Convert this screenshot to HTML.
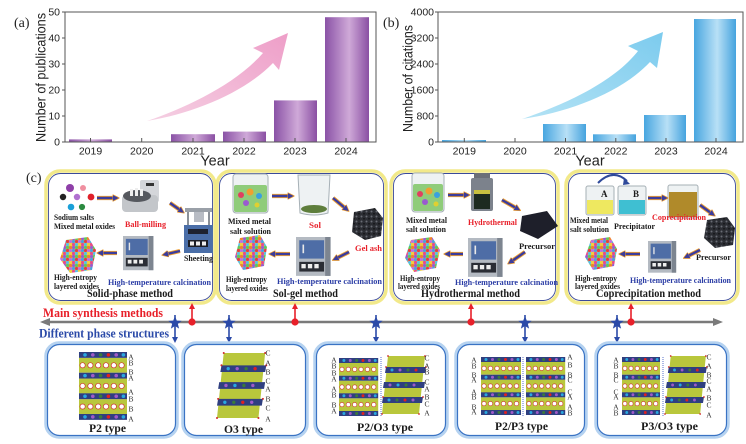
<!DOCTYPE html>
<html><head><meta charset="utf-8"><style>
html,body{margin:0;padding:0;background:#fff;}
svg{display:block;}
.t{font-family:"Liberation Sans",sans-serif;fill:#222;}
.s{font-family:"Liberation Serif",serif;font-weight:bold;fill:#1a1a1a;}
.r{fill:#e8202a;}
.b{fill:#2c3ea6;}
.l{font-family:"Liberation Serif",serif;fill:#333;font-size:7.5px;}
</style></head><body>
<svg width="746" height="444" viewBox="0 0 746 444" xmlns="http://www.w3.org/2000/svg">
<defs>
<linearGradient id="gp" x1="0" x2="1" y1="0" y2="0"><stop offset="0" stop-color="#8a52a6"/><stop offset="0.55" stop-color="#cfa9d8"/><stop offset="1" stop-color="#8a4fa3"/></linearGradient>
<linearGradient id="gb" x1="0" x2="1" y1="0" y2="0"><stop offset="0" stop-color="#48a6e0"/><stop offset="0.55" stop-color="#b8e0f6"/><stop offset="1" stop-color="#45a3de"/></linearGradient>
<linearGradient id="ga" x1="0" x2="1" y1="1" y2="0"><stop offset="0" stop-color="#f5d0e3"/><stop offset="1" stop-color="#ee9ec8"/></linearGradient>
<linearGradient id="gc" x1="0" x2="1" y1="1" y2="0"><stop offset="0" stop-color="#b4e3f5"/><stop offset="1" stop-color="#7ccbee"/></linearGradient>
<pattern id="sph" width="9" height="9" patternUnits="userSpaceOnUse">
<rect width="9" height="9" fill="#e0c850"/>
<circle cx="1.5" cy="1.5" r="1.6" fill="#e84a8a"/><circle cx="4.5" cy="1.5" r="1.6" fill="#58c0e8"/><circle cx="7.5" cy="1.5" r="1.6" fill="#f0d040"/>
<circle cx="1.5" cy="4.5" r="1.6" fill="#9a5ad0"/><circle cx="4.5" cy="4.5" r="1.6" fill="#60c860"/><circle cx="7.5" cy="4.5" r="1.6" fill="#f08030"/>
<circle cx="1.5" cy="7.5" r="1.6" fill="#4aa0e0"/><circle cx="4.5" cy="7.5" r="1.6" fill="#e04040"/><circle cx="7.5" cy="7.5" r="1.6" fill="#c070e0"/>
</pattern>
<pattern id="por" width="5" height="5" patternUnits="userSpaceOnUse"><rect width="5" height="5" fill="#2b2d33"/><circle cx="1.5" cy="1.5" r="1" fill="#6a6d75"/><circle cx="4" cy="3.8" r="0.8" fill="#0e0e10"/></pattern>
<marker id="ah" viewBox="0 0 10 10" refX="2" refY="5" markerWidth="7" markerHeight="7" markerUnits="userSpaceOnUse" orient="auto"><path d="M0,0 L10,5 L0,10 Z" fill="#3b3c9c" stroke="#f0a030" stroke-width="1"/></marker>
<marker id="gh" viewBox="0 0 10 10" refX="5" refY="5" markerWidth="9" markerHeight="9" markerUnits="userSpaceOnUse" orient="auto"><path d="M0,0 L10,5 L0,10 Z" fill="#7a7a7a"/></marker>
<marker id="rh" viewBox="0 0 10 10" refX="5" refY="5" markerWidth="6" markerHeight="6" markerUnits="userSpaceOnUse" orient="auto"><path d="M0,0 L10,5 L0,10 Z" fill="#e8202a"/></marker>
<marker id="bh" viewBox="0 0 10 10" refX="5" refY="5" markerWidth="6" markerHeight="6" markerUnits="userSpaceOnUse" orient="auto"><path d="M0,0 L10,5 L0,10 Z" fill="#2b4aa8"/></marker>
<polygon id="star" points="0,-7 1.76,-2.43 6.66,-2.16 2.85,0.93 4.11,5.66 0,3 -4.11,5.66 -2.85,0.93 -6.66,-2.16 -1.76,-2.43" fill="#2b4aa8"/>
<g id="furn"><rect x="0" y="0" width="32" height="36" fill="#b4bac2"/><rect x="27" y="0" width="5" height="36" fill="#7d8590"/><rect x="3" y="3" width="23" height="17" fill="#4e6da6"/><rect x="6" y="7" width="1.5" height="8" fill="#e8e8e8"/><rect x="3" y="23" width="23" height="9" fill="#2a2d35"/><rect x="5" y="25" width="4" height="4" fill="#eee"/><rect x="11" y="25" width="4" height="4" fill="#eee"/><rect x="17" y="25" width="4" height="4" fill="#eee"/></g>
<g id="tm"><rect width="40" height="5" fill="#2f3f80"/><circle cx="5" cy="2.5" r="1.5" fill="#29a8e0"/><circle cx="11.5" cy="2.5" r="1.5" fill="#a05ac8"/><circle cx="18" cy="2.5" r="1.5" fill="#3a7a3a"/><circle cx="24.5" cy="2.5" r="1.5" fill="#e02020"/><circle cx="31" cy="2.5" r="1.5" fill="#a05ac8"/><circle cx="37" cy="2.5" r="1.5" fill="#29a8e0"/></g>
<g id="na"><rect width="40" height="12.7" fill="#b9c73c"/><g fill="#fff" stroke="#d03030" stroke-width="0.6"><circle cx="3" cy="6.35" r="2.2"/><circle cx="9.5" cy="6.35" r="2.2"/><circle cx="16" cy="6.35" r="2.2"/><circle cx="22.5" cy="6.35" r="2.2"/><circle cx="29" cy="6.35" r="2.2"/><circle cx="35.5" cy="6.35" r="2.2"/></g></g>
<g id="p2"><use href="#na" y="5"/><use href="#na" y="22.7"/><use href="#na" y="40.3"/><use href="#tm" y="0"/><use href="#tm" y="17.7"/><use href="#tm" y="35.3"/><use href="#tm" y="53"/></g>
<g id="o3"><polygon points="6,0 43,0 37,58 0,58" fill="#b9c73c"/>
<polygon points="4,11 44,11 43,17 3,17" fill="#2f3f80"/><polygon points="2,26 43,26 42,32 1,32" fill="#2f3f80"/><polygon points="1,41 41,41 40,47 0,47" fill="#2f3f80"/>
<g><circle cx="10" cy="14" r="1.5" fill="#29a8e0"/><circle cx="18" cy="14" r="1.5" fill="#a05ac8"/><circle cx="26" cy="14" r="1.5" fill="#3a7a3a"/><circle cx="34" cy="14" r="1.5" fill="#e02020"/>
<circle cx="8" cy="29" r="1.5" fill="#a05ac8"/><circle cx="16" cy="29" r="1.5" fill="#29a8e0"/><circle cx="24" cy="29" r="1.5" fill="#3a7a3a"/><circle cx="32" cy="29" r="1.5" fill="#a05ac8"/>
<circle cx="7" cy="44" r="1.5" fill="#29a8e0"/><circle cx="15" cy="44" r="1.5" fill="#3a7a3a"/><circle cx="23" cy="44" r="1.5" fill="#e02020"/><circle cx="31" cy="44" r="1.5" fill="#a05ac8"/></g>
<g fill="#d02828"><circle cx="6" cy="0" r="0.9"/><circle cx="43" cy="0" r="0.9"/><circle cx="0" cy="58" r="0.9"/><circle cx="37" cy="58" r="0.9"/><circle cx="4" cy="11" r="0.9"/><circle cx="44" cy="11" r="0.9"/><circle cx="1" cy="41" r="0.9"/><circle cx="41" cy="41" r="0.9"/></g></g>
</defs>

<rect width="746" height="444" fill="#fff"/>

<!-- ===== Chart (a) ===== -->
<text x="14" y="27" font-family="Liberation Serif,serif" font-size="14" fill="#222">(a)</text>
<path d="M147,121 C185,108 235,85 263,53 L253,48 L288,33 L279,70 L273,63 C245,92 195,113 147,121 Z" fill="url(#ga)"/>
<rect x="69" y="139.4" width="43" height="2.6" fill="url(#gp)"/>
<rect x="171" y="134.2" width="44" height="7.8" fill="url(#gp)"/>
<rect x="223" y="131.6" width="43" height="10.4" fill="url(#gp)"/>
<rect x="274" y="100.4" width="43" height="41.6" fill="url(#gp)"/>
<rect x="325" y="17.2" width="44" height="124.8" fill="url(#gp)"/>
<rect x="65" y="12" width="311" height="130" fill="none" stroke="#555" stroke-width="1"/>
<g stroke="#555" stroke-width="1">
<line x1="62" y1="142" x2="65" y2="142"/><line x1="62" y1="116" x2="65" y2="116"/><line x1="62" y1="90" x2="65" y2="90"/><line x1="62" y1="64" x2="65" y2="64"/><line x1="62" y1="38" x2="65" y2="38"/><line x1="62" y1="12" x2="65" y2="12"/>
<line x1="90.5" y1="142" x2="90.5" y2="138"/><line x1="141.7" y1="142" x2="141.7" y2="138"/><line x1="193" y1="142" x2="193" y2="138"/><line x1="244" y1="142" x2="244" y2="138"/><line x1="295" y1="142" x2="295" y2="138"/><line x1="346" y1="142" x2="346" y2="138"/>
</g>
<g class="t" font-size="10.5" text-anchor="end">
<text x="60" y="145.7">0</text><text x="60" y="119.7">10</text><text x="60" y="93.7">20</text><text x="60" y="67.7">30</text><text x="60" y="41.7">40</text><text x="60" y="15.7">50</text>
</g>
<g class="t" font-size="10.5" text-anchor="middle">
<text x="90.5" y="154.5">2019</text><text x="141.7" y="154.5">2020</text><text x="193" y="154.5">2021</text><text x="244" y="154.5">2022</text><text x="295" y="154.5">2023</text><text x="346" y="154.5">2024</text>
</g>
<text class="t" x="215" y="165.5" font-size="14.5" text-anchor="middle">Year</text>
<text class="t" font-size="14" transform="translate(45.5,142) rotate(-90)" textLength="129" lengthAdjust="spacingAndGlyphs">Number of publications</text>

<!-- ===== Chart (b) ===== -->
<text x="383" y="27" font-family="Liberation Serif,serif" font-size="14" fill="#222">(b)</text>
<path d="M522,119 C560,106 612,84 638,51 L628,46 L663,32 L657,68 L650,62 C622,92 570,112 522,119 Z" fill="url(#gc)"/>
<rect x="442" y="140" width="44" height="2" fill="url(#gb)"/>
<rect x="543" y="124" width="43" height="18" fill="url(#gb)"/>
<rect x="593" y="134.3" width="43" height="7.7" fill="url(#gb)"/>
<rect x="644" y="115" width="42" height="27" fill="url(#gb)"/>
<rect x="694" y="19" width="42" height="123" fill="url(#gb)"/>
<rect x="438" y="12" width="305" height="130" fill="none" stroke="#555" stroke-width="1"/>
<g stroke="#555" stroke-width="1">
<line x1="435" y1="142" x2="438" y2="142"/><line x1="435" y1="116" x2="438" y2="116"/><line x1="435" y1="90" x2="438" y2="90"/><line x1="435" y1="64" x2="438" y2="64"/><line x1="435" y1="38" x2="438" y2="38"/><line x1="435" y1="12" x2="438" y2="12"/>
<line x1="464.3" y1="142" x2="464.3" y2="138"/><line x1="515" y1="142" x2="515" y2="138"/><line x1="565.5" y1="142" x2="565.5" y2="138"/><line x1="615.8" y1="142" x2="615.8" y2="138"/><line x1="666" y1="142" x2="666" y2="138"/><line x1="716" y1="142" x2="716" y2="138"/>
</g>
<g class="t" font-size="10.5" text-anchor="end">
<text x="434" y="145.7">0</text><text x="434" y="119.7">800</text><text x="434" y="93.7">1600</text><text x="434" y="67.7">2400</text><text x="434" y="41.7">3200</text><text x="434" y="15.7">4000</text>
</g>
<g class="t" font-size="10.5" text-anchor="middle">
<text x="464.3" y="154.5">2019</text><text x="515" y="154.5">2020</text><text x="565.5" y="154.5">2021</text><text x="615.8" y="154.5">2022</text><text x="666" y="154.5">2023</text><text x="716" y="154.5">2024</text>
</g>
<text class="t" x="590" y="165.5" font-size="14.5" text-anchor="middle">Year</text>
<text class="t" font-size="14" transform="translate(412.5,132) rotate(-90)" textLength="107" lengthAdjust="spacingAndGlyphs">Number of citations</text>

<!-- ===== Panel (c) ===== -->
<text x="26" y="182" font-family="Liberation Serif,serif" font-size="14" fill="#222">(c)</text>

<!-- boxes -->
<g fill="#fff">
<rect x="46" y="171" width="169" height="132" rx="14" stroke="#f2e98a" stroke-width="3.5"/>
<rect x="217" y="171" width="169" height="132" rx="14" stroke="#f2e98a" stroke-width="3.5"/>
<rect x="391" y="171" width="167" height="132" rx="14" stroke="#f2e98a" stroke-width="3.5"/>
<rect x="566" y="171" width="172" height="132" rx="14" stroke="#f2e98a" stroke-width="3.5"/>
</g>
<g fill="none" stroke="#3b4a9a" stroke-width="0.9">
<rect x="48.5" y="173.5" width="164" height="127" rx="12"/>
<rect x="219.5" y="173.5" width="164" height="127" rx="12"/>
<rect x="393.5" y="173.5" width="162" height="127" rx="12"/>
<rect x="568.5" y="173.5" width="167" height="127" rx="12"/>
</g>

<!-- Box 1 graphics -->
<circle cx="70" cy="188" r="4" fill="#8e3fa8"/><circle cx="83" cy="188" r="3" fill="#f08fa0"/>
<circle cx="63" cy="197" r="3.2" fill="#222"/><circle cx="77" cy="197" r="3.2" fill="#b070d0"/><circle cx="91" cy="197" r="3.4" fill="#e0202a"/>
<circle cx="71" cy="207" r="3.3" fill="#1aa0d8"/><circle cx="82" cy="207" r="3.1" fill="#2a8a40"/>
<rect x="140" y="180" width="19" height="22" rx="2" fill="#d4d6da"/><rect x="146" y="183" width="8" height="3" fill="#333"/>
<rect x="122" y="195" width="36" height="17" rx="4" fill="#c3c6ca"/>
<ellipse cx="137" cy="196" rx="14" ry="6" fill="#55585e"/>
<rect x="130" y="189" width="3" height="7" fill="#eee"/><rect x="135" y="188" width="3" height="8" fill="#eee"/><rect x="140" y="189" width="3" height="7" fill="#eee"/>
<rect x="185" y="208" width="27" height="4" fill="#9aa0a8"/><rect x="187" y="212" width="2" height="13" fill="#8a9098"/><rect x="208" y="212" width="2" height="13" fill="#8a9098"/>
<rect x="194" y="212" width="10" height="10" fill="#b8bcc4"/>
<rect x="184" y="225" width="29" height="28" fill="#4a6ea8"/><rect x="188" y="229" width="20" height="5" fill="#1e2230"/>
<rect x="188" y="240" width="20" height="7" fill="#1b1d25"/><rect x="190" y="241.5" width="4" height="4" fill="#eee"/><rect x="196" y="241.5" width="4" height="4" fill="#eee"/><rect x="202" y="241.5" width="4" height="4" fill="#eee"/>
<use href="#furn" transform="translate(123,236) scale(0.95)"/>
<polygon points="66,240 88,237 96,250 92,270 70,273 60,259" fill="url(#sph)"/>
<!-- Box 2 graphics -->
<rect x="233" y="174" width="35" height="39" rx="3" fill="#eef2f3" stroke="#a6b0b6" stroke-width="1"/>
<rect x="234" y="185" width="33" height="27" rx="2" fill="#8fcc7a"/>
<circle cx="241" cy="195" r="3" fill="#e04060"/><circle cx="250" cy="192" r="3.5" fill="#f0a030"/><circle cx="259" cy="196" r="3" fill="#3aa0e0"/><circle cx="246" cy="203" r="3" fill="#9a5ad0"/><circle cx="257" cy="205" r="2.5" fill="#e0d030"/>
<path d="M298,175 L330,175 L328,213 Q314,217 300,213 Z" fill="#eef2f3" stroke="#a6b0b6" stroke-width="1"/>
<ellipse cx="314" cy="209" rx="13" ry="4" fill="#5e7e3c"/>
<path d="M354,212 L375,208 L383,218 L381,236 L365,240 L352,232 Z" fill="url(#por)"/>
<use href="#furn" transform="translate(296,237) scale(1.08)"/>
<polygon points="240,238 260,235 267,247 264,266 243,270 235,257" fill="url(#sph)"/>
<!-- Box 3 graphics -->
<rect x="412" y="173" width="32" height="39" rx="3" fill="#eef2f3" stroke="#a6b0b6" stroke-width="1"/>
<rect x="413" y="184" width="30" height="27" rx="2" fill="#8fcc7a"/>
<circle cx="420" cy="194" r="3" fill="#e04060"/><circle cx="429" cy="191" r="3.5" fill="#f0a030"/><circle cx="437" cy="195" r="3" fill="#3aa0e0"/><circle cx="425" cy="202" r="3" fill="#9a5ad0"/><circle cx="436" cy="204" r="2.5" fill="#e0d030"/>
<rect x="474" y="173" width="16" height="6" rx="1" fill="#6b6f78"/>
<rect x="471" y="178" width="22" height="33" rx="2" fill="#7c828c"/>
<rect x="474" y="190" width="16" height="19" fill="#1d2a20"/><rect x="474" y="190" width="16" height="4" fill="#c8c040"/>
<polygon points="522,216 547,211 558,226 538,239 520,231" fill="#1e1f2a"/>
<use href="#furn" transform="translate(468,238) scale(1.08)"/>
<polygon points="411,240 432,237 440,250 436,268 414,272 405,258" fill="url(#sph)"/>
<!-- Box 4 graphics -->
<rect x="586" y="186" width="28" height="29" rx="2" fill="#eef2f3" stroke="#a6b0b6" stroke-width="1"/>
<rect x="587" y="200" width="26" height="14" fill="#eee860"/>
<rect x="618" y="186" width="28" height="29" rx="2" fill="#eef2f3" stroke="#a6b0b6" stroke-width="1"/>
<rect x="619" y="200" width="26" height="14" fill="#3fbfd2"/>
<text class="s" x="601" y="197" font-size="9">A</text><text class="s" x="633" y="197" font-size="9">B</text>
<path d="M598,183 Q613,168 627,181" fill="none" stroke="#2f4a9a" stroke-width="2"/>
<polygon points="624,178 630,184 623,185" fill="#2f4a9a"/>
<rect x="668" y="185" width="30" height="33" rx="2" fill="#eef2f3" stroke="#a6b0b6" stroke-width="1"/>
<rect x="669" y="192" width="28" height="25" fill="#b08a2a"/>
<path d="M707,220 L727,217 L735,228 L733,245 L715,248 L704,238 Z" fill="url(#por)"/>
<use href="#furn" transform="translate(648,241) scale(0.88)"/>
<polygon points="591,240 610,237 617,249 614,266 593,270 585,257" fill="url(#sph)"/>

<!-- navy/orange arrows -->
<g stroke-linecap="butt">
<g stroke="#f0a030" stroke-width="4.2">
<line x1="97" y1="198" x2="114" y2="198"/><line x1="170" y1="203" x2="180" y2="210"/><line x1="180" y1="251" x2="167" y2="254"/><line x1="117" y1="253" x2="102" y2="253"/>
<line x1="272" y1="196" x2="289" y2="196"/><line x1="333" y1="198" x2="345" y2="208"/><line x1="349" y1="252" x2="337" y2="258"/><line x1="290" y1="254" x2="274" y2="254"/>
<line x1="448" y1="195" x2="465" y2="195"/><line x1="502" y1="200" x2="516" y2="208"/><line x1="525" y1="252" x2="512" y2="261"/><line x1="463" y1="254" x2="449" y2="254"/>
<line x1="648" y1="198" x2="663" y2="198"/><line x1="700" y1="205" x2="711" y2="213"/><line x1="700" y1="250" x2="688" y2="256"/><line x1="640" y1="254" x2="624" y2="254"/>
</g>
<g stroke="#3b3c9c" stroke-width="2.4" marker-end="url(#ah)">
<line x1="97" y1="198" x2="114" y2="198"/><line x1="170" y1="203" x2="180" y2="210"/><line x1="180" y1="251" x2="167" y2="254"/><line x1="117" y1="253" x2="102" y2="253"/>
<line x1="272" y1="196" x2="289" y2="196"/><line x1="333" y1="198" x2="345" y2="208"/><line x1="349" y1="252" x2="337" y2="258"/><line x1="290" y1="254" x2="274" y2="254"/>
<line x1="448" y1="195" x2="465" y2="195"/><line x1="502" y1="200" x2="516" y2="208"/><line x1="525" y1="252" x2="512" y2="261"/><line x1="463" y1="254" x2="449" y2="254"/>
<line x1="648" y1="198" x2="663" y2="198"/><line x1="700" y1="205" x2="711" y2="213"/><line x1="700" y1="250" x2="688" y2="256"/><line x1="640" y1="254" x2="624" y2="254"/>
</g>
</g>

<!-- Box texts -->
<g class="s" font-size="8.5">
<text x="54" y="220" textLength="40" lengthAdjust="spacingAndGlyphs">Sodium salts</text>
<text x="54" y="229" textLength="61" lengthAdjust="spacingAndGlyphs">Mixed metal oxides</text>
<text class="s r" x="125" y="227" textLength="41" lengthAdjust="spacingAndGlyphs">Ball-milling</text>
<text x="184" y="261" textLength="29" lengthAdjust="spacingAndGlyphs">Sheeting</text>
<text x="54" y="280" textLength="43" lengthAdjust="spacingAndGlyphs">High-entropy</text>
<text x="54" y="289" textLength="45" lengthAdjust="spacingAndGlyphs">layered oxides</text>
<text class="s b" x="108" y="285" textLength="103" lengthAdjust="spacingAndGlyphs">High-temperature calcination</text>

<text x="228" y="224" textLength="43" lengthAdjust="spacingAndGlyphs">Mixed metal</text>
<text x="230" y="234" textLength="41" lengthAdjust="spacingAndGlyphs">salt solution</text>
<text class="s r" x="309" y="228" textLength="12" lengthAdjust="spacingAndGlyphs">Sol</text>
<text class="s r" x="355" y="251" textLength="27" lengthAdjust="spacingAndGlyphs">Gel ash</text>
<text x="226" y="282" textLength="41" lengthAdjust="spacingAndGlyphs">High-entropy</text>
<text x="226" y="291" textLength="42" lengthAdjust="spacingAndGlyphs">layered oxides</text>
<text class="s b" x="277" y="284" textLength="105" lengthAdjust="spacingAndGlyphs">High-temperature calcination</text>

<text x="406" y="223" textLength="41" lengthAdjust="spacingAndGlyphs">Mixed metal</text>
<text x="406" y="232" textLength="40" lengthAdjust="spacingAndGlyphs">salt solution</text>
<text class="s r" x="468" y="225" textLength="49" lengthAdjust="spacingAndGlyphs">Hydrothermal</text>
<text x="519" y="249" textLength="36" lengthAdjust="spacingAndGlyphs">Precursor</text>
<text x="400" y="281" textLength="40" lengthAdjust="spacingAndGlyphs">High-entropy</text>
<text x="398" y="289" textLength="42" lengthAdjust="spacingAndGlyphs">layered oxides</text>
<text class="s b" x="455" y="285" textLength="103" lengthAdjust="spacingAndGlyphs">High-temperature calcination</text>

<text x="570" y="223" textLength="38" lengthAdjust="spacingAndGlyphs">Mixed metal</text>
<text x="570" y="232" textLength="39" lengthAdjust="spacingAndGlyphs">salt solution</text>
<text x="614" y="229" textLength="41" lengthAdjust="spacingAndGlyphs">Precipitator</text>
<text class="s r" x="652" y="220" textLength="54" lengthAdjust="spacingAndGlyphs">Coprecipitation</text>
<text x="696" y="260" textLength="35" lengthAdjust="spacingAndGlyphs">Precursor</text>
<text x="575" y="281" textLength="42" lengthAdjust="spacingAndGlyphs">High-entropy</text>
<text x="575" y="289" textLength="45" lengthAdjust="spacingAndGlyphs">layered oxides</text>
<text class="s b" x="630" y="283" textLength="101" lengthAdjust="spacingAndGlyphs">High-temperature calcination</text>
</g>
<g class="s" font-size="12">
<text x="87" y="297" textLength="86" lengthAdjust="spacingAndGlyphs">Solid-phase method</text>
<text x="273" y="297" textLength="65" lengthAdjust="spacingAndGlyphs">Sol-gel method</text>
<text x="421" y="297" textLength="99" lengthAdjust="spacingAndGlyphs">Hydrothermal method</text>
<text x="596" y="297" textLength="105" lengthAdjust="spacingAndGlyphs">Coprecipitation method</text>
</g>

<!-- Timeline -->
<line x1="47" y1="322" x2="716" y2="322" stroke="#7a7a7a" stroke-width="2.5"/>
<polygon points="40,322 50,318 50,326" fill="#7a7a7a"/>
<polygon points="723,322 713,318 713,326" fill="#7a7a7a"/>
<text class="s r" x="43" y="317" font-size="12.5" textLength="120" lengthAdjust="spacingAndGlyphs">Main synthesis methods</text>
<text class="s" x="39" y="337.5" font-size="12.5" fill="#2b4aa8" style="fill:#2b4aa8" textLength="130" lengthAdjust="spacingAndGlyphs">Different phase structures</text>
<g stroke="#e8202a" stroke-width="1.6">
<line x1="192" y1="321" x2="192" y2="308"/><line x1="295" y1="321" x2="295" y2="308"/><line x1="471" y1="321" x2="471" y2="308"/><line x1="631" y1="321" x2="631" y2="308"/>
</g>
<g fill="#e8202a">
<polygon points="192,303 189,309 195,309"/><polygon points="295,303 292,309 298,309"/><polygon points="471,303 468,309 474,309"/><polygon points="631,303 628,309 634,309"/>
<circle cx="192" cy="322" r="3.6"/><circle cx="295" cy="322" r="3.6"/><circle cx="471" cy="322" r="3.6"/><circle cx="631" cy="322" r="3.6"/>
</g>
<g stroke="#2b4aa8" stroke-width="1.6">
<line x1="175" y1="315" x2="175" y2="338"/><line x1="229" y1="315" x2="229" y2="338"/><line x1="376" y1="315" x2="376" y2="338"/><line x1="525" y1="315" x2="525" y2="338"/><line x1="617" y1="315" x2="617" y2="338"/>
</g>
<g fill="#2b4aa8">
<polygon points="175,343 172,337 178,337"/><polygon points="229,343 226,337 232,337"/><polygon points="376,343 373,337 379,337"/><polygon points="525,343 522,337 528,337"/><polygon points="617,343 614,337 620,337"/>
</g>
<use href="#star" x="175" y="323"/><use href="#star" x="229" y="323"/><use href="#star" x="376" y="323"/><use href="#star" x="525" y="323"/><use href="#star" x="617" y="323"/>

<!-- Bottom boxes -->
<g fill="#fff" stroke="#b5d2f0" stroke-width="3.5">
<rect x="46" y="343" width="131" height="94" rx="13"/>
<rect x="183" y="343" width="124" height="94" rx="13"/>
<rect x="315" y="343" width="132" height="94" rx="13"/>
<rect x="456" y="343" width="130" height="94" rx="13"/>
<rect x="596" y="343" width="132" height="94" rx="13"/>
</g>
<g fill="none" stroke="#3a73c4" stroke-width="1.2">
<rect x="47.5" y="344.5" width="128" height="91" rx="12"/>
<rect x="184.5" y="344.5" width="121" height="91" rx="12"/>
<rect x="316.5" y="344.5" width="129" height="91" rx="12"/>
<rect x="457.5" y="344.5" width="127" height="91" rx="12"/>
<rect x="597.5" y="344.5" width="129" height="91" rx="12"/>
</g>

<!-- structures -->
<use href="#p2" transform="translate(79,352) scale(1.2,1.17)"/>
<use href="#o3" transform="translate(217,353) scale(1.12,1.12)"/>
<use href="#p2" transform="translate(339,358) scale(0.98,1)"/>
<use href="#o3" transform="translate(382,356)"/>
<use href="#p2" transform="translate(481,357)"/>
<use href="#p2" transform="translate(526,357) scale(0.98,1)"/>
<use href="#p2" transform="translate(622,357) scale(0.95,1)"/>
<use href="#o3" transform="translate(665,356) scale(0.95,1)"/>
<g stroke="#3050c0" stroke-width="0.8" stroke-dasharray="1,1">
<line x1="381" y1="357" x2="381" y2="416"/><line x1="523" y1="357" x2="523" y2="416"/><line x1="663" y1="357" x2="663" y2="416"/>
</g>

<!-- letters -->
<g class="l" text-anchor="middle">
<text x="131" y="359.7">A</text><text x="131" y="365.7">B</text><text x="131" y="374.7">B</text><text x="131" y="380.7">A</text><text x="131" y="394.7">A</text><text x="131" y="401.7">B</text><text x="131" y="411.7">B</text><text x="131" y="421.7">A</text>
<text x="268" y="355.7">C</text><text x="268" y="365.7">A</text><text x="268" y="374.7">B</text><text x="268" y="383.7">C</text><text x="268" y="391.7">A</text><text x="268" y="401.7">B</text><text x="268" y="410.7">C</text><text x="268" y="421.7">A</text>
<text x="334" y="362.7">A</text><text x="334" y="368.7">B</text><text x="334" y="375.7">B</text><text x="334" y="381.7">A</text><text x="334" y="391.7">A</text><text x="334" y="397.7">B</text><text x="334" y="407.7">B</text><text x="334" y="413.7">A</text>
<text x="427" y="360.7">C</text><text x="427" y="368.7">A</text><text x="427" y="374.7">B</text><text x="427" y="384.7">C</text><text x="427" y="391.7">A</text><text x="427" y="399.7">B</text><text x="427" y="406.7">C</text><text x="427" y="415.7">A</text>
<text x="474" y="362.7">A</text><text x="474" y="368.7">B</text><text x="474" y="377.7">B</text><text x="474" y="382.7">A</text><text x="474" y="394.7">A</text><text x="474" y="399.7">B</text><text x="474" y="409.7">B</text><text x="474" y="414.7">A</text>
<text x="570" y="359.7">A</text><text x="570" y="367.7">B</text><text x="570" y="377.7">B</text><text x="570" y="382.7">C</text><text x="570" y="394.7">C</text><text x="570" y="399.7">A</text><text x="570" y="409.7">A</text><text x="570" y="415.7">B</text>
<text x="616" y="362.7">A</text><text x="616" y="368.7">B</text><text x="616" y="377.7">B</text><text x="616" y="382.7">C</text><text x="616" y="394.7">C</text><text x="616" y="399.7">A</text><text x="616" y="409.7">A</text><text x="616" y="415.7">B</text>
<text x="709" y="359.7">C</text><text x="709" y="368.7">A</text><text x="709" y="377.7">B</text><text x="709" y="383.7">C</text><text x="709" y="391.7">A</text><text x="709" y="400.7">B</text><text x="709" y="407.7">C</text><text x="709" y="417.7">A</text>
</g>

<g class="s" font-size="12">
<text x="89" y="432" textLength="37" lengthAdjust="spacingAndGlyphs">P2 type</text>
<text x="224" y="433" textLength="39" lengthAdjust="spacingAndGlyphs">O3 type</text>
<text x="357" y="431" textLength="56" lengthAdjust="spacingAndGlyphs">P2/O3 type</text>
<text x="495" y="430" textLength="53" lengthAdjust="spacingAndGlyphs">P2/P3 type</text>
<text x="641" y="430" textLength="57" lengthAdjust="spacingAndGlyphs">P3/O3 type</text>
</g>
</svg>
</body></html>
